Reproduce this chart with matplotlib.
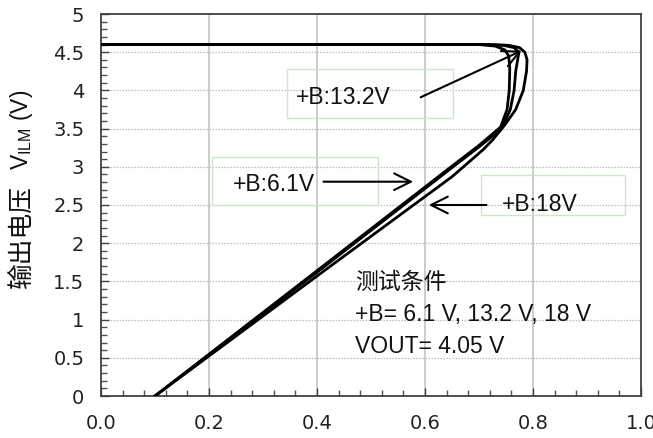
import matplotlib
matplotlib.use("Agg")
import matplotlib.pyplot as plt
from matplotlib.patches import Rectangle
from matplotlib.ticker import MultipleLocator, FormatStrFormatter

# ---- data ----
x_61 = [0.10, 0.40, 0.652, 0.700, 0.740, 0.752, 0.756, 0.757, 0.755, 0.748, 0.730, 0.700, 0.0]
y_61 = [0.00, 1.64, 3.02, 3.28, 3.52, 3.75, 4.00, 4.30, 4.45, 4.53, 4.58, 4.60, 4.60]

x_132 = [0.10, 0.40, 0.652, 0.700, 0.742, 0.758, 0.765, 0.768, 0.772, 0.774, 0.765, 0.745, 0.710, 0.0]
y_132 = [0.00, 1.62, 3.00, 3.26, 3.50, 3.75, 4.00, 4.25, 4.42, 4.50, 4.56, 4.59, 4.60, 4.60]

x_18 = [0.10, 0.40, 0.650, 0.707, 0.725, 0.748, 0.768, 0.782, 0.788, 0.789, 0.785, 0.775, 0.755, 0.720, 0.0]
y_18 = [0.00, 1.57, 2.87, 3.22, 3.35, 3.55, 3.75, 4.00, 4.25, 4.40, 4.50, 4.56, 4.59, 4.60, 4.60]

series = [(x_61, y_61), (x_132, y_132), (x_18, y_18)]

x_ticks = [0.0, 0.2, 0.4, 0.6, 0.8, 1.0]
y_ticks = [0, 0.5, 1, 1.5, 2, 2.5, 3, 3.5, 4, 4.5, 5]
y_tick_labels = ["0", "0.5", "1", "1.5", "2", "2.5", "3", "3.5", "4", "4.5", "5"]

label_132 = "+B:13.2V"
label_61 = "+B:6.1V"
label_18 = "+B:18V"
cond_lines = ["测试条件", "+B= 6.1 V, 13.2 V, 18 V", "VOUT= 4.05 V"]
ylabel_cn = "输出电压"
ylabel_sym = "V$_\\mathregular{ILM}$ (V)"

# ---- figure ----
W, H = 653, 438
fig = plt.figure(figsize=(W / 100, H / 100), dpi=100)
ax = fig.add_axes([101/W, 1 - 396/H, 540/W, 382/H])

ax.set_xlim(0, 1.0)
ax.set_ylim(0, 5)

# grid
for xv in x_ticks[1:-1]:
    ax.axvline(xv, color="#c8c8c8", lw=1.3, zorder=1)
for yv in y_ticks[1:-1]:
    ax.axhline(yv, color="#bcbcbc", lw=0.9, ls=(0, (1.2, 1.2)), zorder=1)

for xs, ys in series:
    ax.plot(xs, ys, color="black", lw=2.0, solid_joinstyle="round", zorder=3)

ax.set_xticks(x_ticks)
ax.xaxis.set_major_formatter(FormatStrFormatter("%.1f"))
ax.set_yticks(y_ticks)
ax.set_yticklabels(y_tick_labels)
ax.xaxis.set_minor_locator(MultipleLocator(0.04))
ax.yaxis.set_minor_locator(MultipleLocator(0.1))
ax.tick_params(which="major", direction="in", length=6, width=1.0, color="#404040",
               labelsize=14, labelcolor="#222222", top=False, right=False)
ax.tick_params(axis="x", which="major", pad=13)
ax.tick_params(axis="y", which="major", pad=12)
ax.tick_params(which="minor", direction="in", length=4, width=1.0, color="#505050",
               top=False, right=False)
for lab in ax.get_xticklabels() + ax.get_yticklabels():
    lab.set_fontfamily("DejaVu Sans")

for sp in ax.spines.values():
    sp.set_color("#404040")
    sp.set_linewidth(1.3)

# y-axis label: CJK part, then the symbol part
lab_x = (21.5 - 101) / 540
ax.text(lab_x, (396 - 237) / 382, ylabel_cn, rotation=90, ha="center", va="center",
        transform=ax.transAxes, fontsize=18.5, family="Noto Sans CJK SC", color="#111111")
ax.text(lab_x, (396 - 170) / 382, ylabel_sym, rotation=90, ha="center", va="bottom",
        transform=ax.transAxes, fontsize=16.5, family="Liberation Sans", color="#111111")

# annotation boxes
box_kw = dict(fill=False, edgecolor="#cce6cc", lw=1.0, zorder=2)
ax.add_patch(Rectangle((0.344, 3.64), 0.307, 0.64, **box_kw))
ax.add_patch(Rectangle((0.206, 2.50), 0.307, 0.63, **box_kw))
ax.add_patch(Rectangle((0.703, 2.37), 0.267, 0.52, **box_kw))

tfont = dict(fontsize=16.5, family=["Liberation Sans", "Noto Sans CJK SC"], color="#111111")
arrow_kw = dict(arrowstyle="->,head_length=0.6,head_width=0.3", lw=1.5, color="black",
                shrinkA=0, shrinkB=0, mutation_scale=20)

ax.text(0.361, 3.91, label_132, va="center", ha="left", zorder=4, **tfont)
ax.annotate("", xy=(0.779, 4.52), xytext=(0.592, 3.91), arrowprops=arrow_kw, zorder=4)

ax.text(0.244, 2.77, label_61, va="center", ha="left", zorder=4, **tfont)
ax.annotate("", xy=(0.578, 2.805), xytext=(0.412, 2.805), arrowprops=arrow_kw, zorder=4)

ax.text(0.742, 2.50, label_18, va="center", ha="left", zorder=4, **tfont)
ax.annotate("", xy=(0.607, 2.50), xytext=(0.714, 2.50), arrowprops=arrow_kw, zorder=4)

for i, line in enumerate(cond_lines):
    ax.text(0.470, 1.49 - 0.42 * i, line, va="center", ha="left", zorder=4, **tfont)

fig.savefig("out.png", dpi=100)
